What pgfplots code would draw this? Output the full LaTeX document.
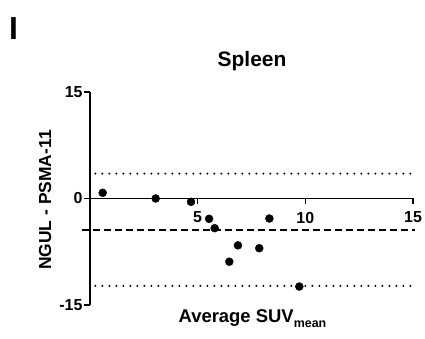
\documentclass[border=0pt]{standalone}
\usepackage{pgfplots}
\pgfplotsset{compat=1.18}
\usepackage{fontspec}
\setmainfont{Liberation Sans}

\pgfplotstableread{
avg   diff
0.59   0.80
3.05   0.00
4.69  -0.47
5.53  -2.86
5.79  -4.18
8.33  -2.82
6.87  -6.60
7.86  -7.00
6.47  -8.90
9.72 -12.40
}\spleen

\begin{document}
\begin{tikzpicture}
\path[use as bounding box] (0bp,0bp) rectangle (425bp,339bp);
\begin{axis}[
  at={(90bp,34bp)}, anchor=south west,
  scale only axis, width=323bp, height=213bp,
  xmin=0, xmax=15, ymin=-15, ymax=15,
  axis x line=middle, axis y line=left,
  axis line style={-, line width=1.8bp, black},
  xtick={5,10,15}, xticklabels={5,10,15},
  ytick={-15,0,15}, yticklabels={-15,0,15},
  xtick align=outside, ytick align=outside,
  major tick length=6bp,
  major tick style={line width=1.6bp, black},
  xticklabel style={font=\fontsize{16}{17}\selectfont\bfseries, anchor=north, yshift=-4bp},
  yticklabel style={font=\fontsize{16}{17}\selectfont\bfseries, anchor=east, xshift=2bp},
  clip=false,
]
% tick marks
\draw[line width=1.6bp] (axis cs:0,15) -- ++(-6bp,0pt);
\draw[line width=1.6bp] (axis cs:0,0) -- ++(-6bp,0pt);
\draw[line width=1.6bp] (axis cs:0,-15) -- ++(-6bp,0pt);
\draw[line width=1.6bp] (axis cs:5,0) -- ++(0pt,-5bp);
\draw[line width=1.6bp] (axis cs:10,0) -- ++(0pt,-5bp);
\draw[line width=1.6bp] (axis cs:15,0) -- ++(0pt,-5bp);
% limits of agreement and mean difference
\addplot[black, line width=2.2bp, line cap=round, dash pattern=on 0bp off 7bp]
  coordinates {(0.25,3.5) (15.1,3.5)};
\addplot[black, line width=2.2bp, line cap=round, dash pattern=on 0bp off 7bp]
  coordinates {(0.25,-12.3) (15.1,-12.3)};
\addplot[black, line width=1.8bp, dash pattern=on 7bp off 4bp]
  coordinates {(-0.35,-4.4) (15.1,-4.4)};
% individual differences
\addplot[only marks, mark=*, mark size=4bp, black] table[x=avg, y=diff] {\spleen};
\end{axis}
\node[anchor=base west, inner sep=0pt, font=\fontsize{32}{34}\selectfont\bfseries] at (9bp,299bp) {I};
\node[anchor=base, inner sep=0pt, font=\fontsize{21}{22}\selectfont\bfseries] at (252bp,272bp) {Spleen};
\node[anchor=base, inner sep=0pt, font=\fontsize{18.5}{19}\selectfont\bfseries] at (252.5bp,17bp)
  {Average SUV\raisebox{-5bp}{\fontsize{12.5}{13}\selectfont mean}};
\node[rotate=90, inner sep=0pt, font=\fontsize{17.5}{18}\selectfont\bfseries] at (45bp,139bp) {NGUL - PSMA-11};
\end{tikzpicture}
\end{document}
